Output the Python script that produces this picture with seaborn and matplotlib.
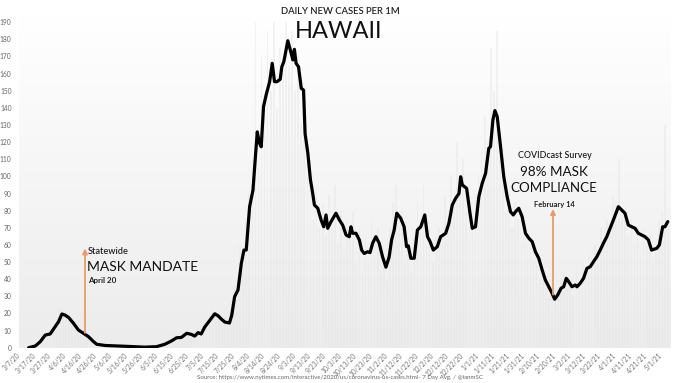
import numpy as np
import pandas as pd
import matplotlib
matplotlib.use("Agg")
import matplotlib.pyplot as plt
import seaborn as sns
from matplotlib.colors import LinearSegmentedColormap

# ---------------- data ----------------
start_date = "2020-03-07"

# 7-day average daily new cases per 1M (day offset from 3/7/20)
avg_days = [7.6, 12, 15.2, 18.5, 21.7, 25, 27.2, 29.4, 31.5, 33.7, 37, 40.2, 43.5, 46.8,
            50, 52.2, 57.6, 66, 77, 83.5, 91.3, 96.7, 101, 104.4, 107.6, 111, 114, 116.3,
            118.5, 120.5, 122.8, 126, 129.4, 131.6, 133.7, 135.9, 139, 140.5, 142.4, 144.6,
            146.8, 148.5, 150, 152.2, 154.4, 157.2, 158.7, 159.8, 161.3, 163, 165.3, 167,
            168.5, 170.2, 172.2, 173.3, 174.6, 177.2, 179.4, 180.5, 181.5, 182.6, 184.2,
            186, 187.5, 188.5, 190.3, 192, 193.5, 194.6, 196.8, 199, 200.7, 202.2, 203.3,
            205.5, 208.7, 211, 213.1, 215.3, 217.4, 218.5, 219.6, 221.8, 224, 225.5, 227.2,
            229.4, 231, 232.7, 234.8, 237, 239.2, 241.4, 243.5, 245.1, 246.8, 248.5, 251.1,
            253.3, 254.9, 256, 257.7, 259.9, 262, 264.2, 266.8, 268.6, 270.3, 272.4, 275,
            277.2, 280.5, 282.6, 284.8, 287, 289.2, 290.3, 291.4, 294.2, 296.4, 297.9, 300,
            302.2, 304.4, 306.6, 308.7, 309.8, 311.4, 312.7, 314.2, 316.4, 318.5, 320.7,
            322.9, 324.7, 326.2, 328.3, 330.5, 332.7, 334.9, 337.1, 339.2, 341.4, 343.6,
            345.7, 347.9, 350.1, 351.8, 353.8, 356, 357.7, 359.4, 361, 363.1, 365.3, 366.4,
            368.5, 370.7, 372.9, 375.1, 377.2, 379.4, 381.6, 383.7, 385.9, 388.1, 390.2,
            393.5, 395.7, 397.8, 400, 402.2, 404.4, 406.5, 408.7, 410.9, 413.1, 415.2,
            418.6, 420.3, 422.5, 424, 425.8]
avg_cases = [0, 1, 3.5, 7.4, 8, 12.3, 15.2, 19.7, 19, 17.7, 14.2, 10.3, 8.4, 6.4,
             3.6, 2, 1.3, 1, 0.6, 0.3, 0.6, 2, 3.9, 5.8, 6, 8.4, 7.8, 6.8,
             8.8, 8, 12, 15.8, 19.8, 18.6, 16.7, 15, 14.4, 18.9, 29.8, 33.7,
             49.3, 57, 57, 82.3, 92, 126, 119.3, 117.3, 140.7, 147.5, 155.3, 166,
             155.3, 155.3, 156.7, 164, 167, 179.2, 171.9, 168, 174.2, 166, 164,
             151.4, 150.4, 125, 113.5, 98, 90, 83.3, 81.4, 74.5, 70.6, 77.5, 69.7,
             73.6, 78.5, 74.5, 71.6, 65.8, 64.8, 70.6, 66.8, 66.8, 62.9, 57, 55,
             56, 55.5, 61, 64.8, 61, 53, 47, 53, 62.9, 68.7, 78.5, 75.5,
             70.6, 59, 59.5, 52.2, 52.2, 68.7, 70.6, 77.5, 64.8, 61.9, 57, 59,
             64.8, 66.8, 72.6, 83.3, 87.2, 90, 99.8, 95, 93, 78.5, 69.7, 70.6,
             88.2, 96, 101.8, 116.4, 117.3, 133, 138.4, 134.9, 117.3, 99.8, 88.2,
             79.4, 77.5, 79.4, 81.4, 76.5, 66.8, 63.9, 61.9, 56, 52.2, 45.4,
             39.5, 35.6, 31.8, 28.3, 30.8, 34.7, 35.6, 40.5, 38.5, 35.6, 36.6, 35.6,
             37.6, 40.5, 46.3, 47.3, 50.2, 53.1, 57, 61, 64.8, 69.7, 74.5,
             82.3, 80.4, 78.5, 71.6, 70.6, 69.7, 66.8, 65.8, 64.8, 62.9, 57,
             58, 60, 70.6, 70.6, 73.6]

# daily new cases per 1M (faint bars), every other day from day 8
bar_days = list(range(8, 428, 2))
bar_cases = [0, 2, 1, 4, 7, 5, 11, 8, 14, 17, 24, 19, 22, 15, 17, 11, 13, 7, 9, 5,
             6, 3, 2, 1, 2, 1, 1, 2, 0, 1, 1, 0, 1, 2, 0, 1, 0, 1, 0, 0,
             1, 1, 2, 1, 3, 2, 5, 4, 8, 5, 9, 7, 12, 6, 8, 11, 9, 15, 13, 19,
             24, 17, 21, 14, 18, 12, 22, 35, 28, 60, 45, 75, 90, 110, 190, 105, 170, 140, 185, 150,
             190, 140, 175, 160, 190, 165, 185, 150, 170, 130, 140, 100, 110, 75, 95, 70, 85, 65, 90, 70,
             95, 60, 80, 55, 75, 65, 80, 50, 70, 45, 65, 50, 75, 60, 70, 45, 55, 40, 70, 85,
             95, 70, 80, 50, 60, 45, 65, 85, 75, 95, 60, 70, 50, 65, 70, 60, 90, 75, 100, 85,
             120, 95, 110, 80, 65, 75, 90, 100, 115, 135, 120, 175, 150, 185, 110, 95, 80, 90, 70, 85,
             75, 60, 70, 55, 65, 50, 55, 40, 45, 35, 30, 25, 35, 30, 40, 45, 35, 40, 30, 45,
             35, 50, 45, 55, 50, 60, 55, 70, 60, 75, 70, 90, 85, 110, 75, 80, 65, 75, 60, 70,
             55, 70, 60, 65, 50, 55, 75, 80, 130, 70]

tick_labels = ["3/7/20", "3/17/20", "3/27/20", "4/6/20", "4/16/20", "4/26/20", "5/6/20",
               "5/16/20", "5/26/20", "6/5/20", "6/15/20", "6/25/20", "7/5/20", "7/15/20",
               "7/25/20", "8/4/20", "8/14/20", "8/24/20", "9/3/20", "9/13/20", "9/23/20",
               "10/3/20", "10/13/20", "10/23/20", "11/2/20", "11/12/20", "11/22/20",
               "12/2/20", "12/12/20", "12/22/20", "1/1/21", "1/11/21", "1/21/21", "1/31/21",
               "2/10/21", "2/20/21", "3/2/21", "3/12/21", "3/22/21", "4/1/21", "4/11/21",
               "4/21/21", "5/1/21"]
y_ticks = list(range(0, 200, 10))

mandate_day, mandate_from, mandate_to = 44.5, 8.6, 58
survey_day, survey_from, survey_to = 350.7, 31, 81

# ---------------- figure ----------------
sns.set_theme(style="white")
plt.rcParams['font.family'] = ['Lato', 'DejaVu Sans']

W, H = 679, 383
fig = plt.figure(figsize=(W / 100, H / 100), dpi=100)

x0_px, slope = 15.0, 1.533          # pixel of day 0, pixels per day
y0_px, yslope = 347.7, 1.713        # pixel of value 0, pixels per unit
ax_left_px, ax_right_px = 17, 670
ymax = 195
ax_top_px = y0_px - ymax * yslope
ax = fig.add_axes([ax_left_px / W, 1 - y0_px / H,
                   (ax_right_px - ax_left_px) / W, (y0_px - ax_top_px) / H])
xmin = (ax_left_px - x0_px) / slope
xmax = (ax_right_px - x0_px) / slope
ax.set_xlim(xmin, xmax)
ax.set_ylim(0, ymax)

# gradient background
grad = np.linspace(0, 1, 256).reshape(-1, 1)
cmap = LinearSegmentedColormap.from_list("bg", ["#ffffff", "#ececec"])
ax.imshow(grad, extent=[xmin, xmax, 0, ymax], aspect="auto", cmap=cmap,
          origin="upper", zorder=0)

# faint daily bars
ax.bar(bar_days, bar_cases, width=1.1, color="#e6e6e6", alpha=0.45, zorder=1,
       linewidth=0)

# 7-day average line
df = pd.DataFrame({"day": avg_days, "cases": avg_cases})
sns.lineplot(data=df, x="day", y="cases", ax=ax, color="black", linewidth=2.3,
             zorder=3, legend=False)

# arrows
orange = "#ee9a66"
for d, a, b in [(mandate_day, mandate_from, mandate_to), (survey_day, survey_from, survey_to)]:
    ax.annotate("", xy=(d, b), xytext=(d, a),
                arrowprops=dict(arrowstyle="-|>,head_length=0.25,head_width=0.12",
                                color=orange, lw=1.3, shrinkA=0, shrinkB=0), zorder=4)

# axes styling
ax.set_xticks(np.arange(len(tick_labels)) * 10)
ax.set_xticklabels(tick_labels, rotation=45, ha="right", rotation_mode="anchor",
                   fontsize=4.8, color="#777777")
ax.set_yticks(y_ticks)
ax.set_yticklabels([str(v) for v in y_ticks], fontsize=4.8, color="#666666")
ax.tick_params(axis="both", length=0)
ax.tick_params(axis="x", pad=3)
ax.tick_params(axis="y", pad=4)
ax.set_xlabel("")
ax.set_ylabel("")
for s in ax.spines.values():
    s.set_visible(False)


def ftext(xp, yp, s, **kw):
    fig.text(xp / W, 1 - yp / H, s, **kw)


ftext(340, 11, "DAILY NEW CASES PER 1M", fontsize=6.8, ha="center", va="center",
      color="#222222", fontweight="semibold")
ftext(339, 32, "HAWAII", fontsize=17, ha="center", va="center", color="#111111")

ftext(87.5, 252, "Statewide", fontsize=6.6, ha="left", va="center", color="#222222",
      fontweight="semibold")
ftext(87, 267, "MASK MANDATE", fontsize=10, ha="left", va="center", color="#111111")
ftext(88, 280, "April 20", fontsize=5.8, ha="left", va="center", color="#222222",
      fontweight="bold")

ftext(555, 156, "COVIDcast Survey", fontsize=6.4, ha="center", va="center", color="#222222",
      fontweight="semibold")
ftext(554, 172, "98% MASK", fontsize=9.7, ha="center", va="center", color="#111111")
ftext(554, 188, "COMPLIANCE", fontsize=9.6, ha="center", va="center", color="#111111")
ftext(554, 204, "February 14", fontsize=5.4, ha="center", va="center", color="#222222",
      fontweight="bold")

ftext(340, 378, "Source: https://www.nytimes.com/interactive/2020/us/coronavirus-us-cases.html- 7 Day Avg. / @ianmSC",
      fontsize=4.4, ha="center", va="center", color="#666666")

fig.savefig("out.png", dpi=100, facecolor="white")
